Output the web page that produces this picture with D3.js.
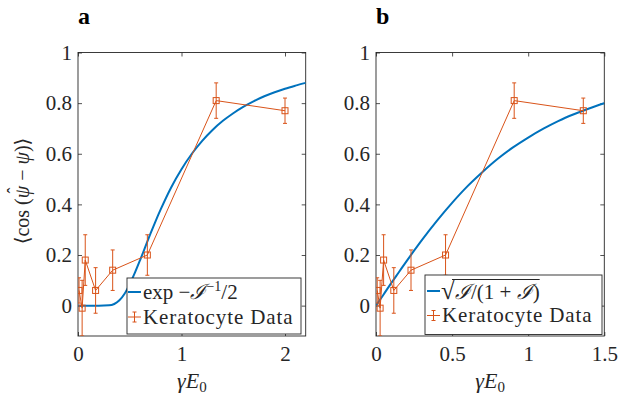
<!DOCTYPE html>
<html>
<head>
<meta charset="utf-8">
<script src="https://cdn.jsdelivr.net/npm/d3@7"></script>
<style>
  body { margin: 0; background: #fff; }
  svg { display: block; }
</style>
</head>
<body>
<script>
// ---------- data ----------
const panelLabels = ["a", "b"];
// experimental x positions (gamma*E0) in each panel
const dataXA = [0.01, 0.04, 0.07, 0.17, 0.335, 0.67, 1.335, 2.0];
const dataXB = [0.008, 0.027, 0.05, 0.117, 0.23, 0.457, 0.908, 1.362];
// Keratocyte data mean and error (same in both panels)
const dataY = [0.06, -0.01, 0.18, 0.06, 0.14, 0.20, 0.81, 0.77];
const dataErr = [0.05, 0.11, 0.10, 0.09, 0.08, 0.08, 0.07, 0.05];
// theory curve, panel a (exp -I^-1/2)
const curveXA = [0, 0.1, 0.2, 0.3, 0.35, 0.4, 0.45, 0.5, 0.55, 0.6, 0.65, 0.7, 0.75, 0.8, 0.9, 1.0, 1.1, 1.2, 1.3, 1.4, 1.5, 1.6, 1.7, 1.8, 1.9, 2.0, 2.1, 2.2];
const curveYA = [0, 0, 0, 0.001, 0.0065, 0.021, 0.047, 0.085, 0.13, 0.18, 0.232, 0.284, 0.334, 0.381, 0.467, 0.539, 0.60, 0.651, 0.694, 0.73, 0.76, 0.786, 0.808, 0.827, 0.843, 0.857, 0.869, 0.88];
// theory curve, panel b (sqrt(I/(1+I)))
const curveXB = [0, 0.05, 0.1, 0.15, 0.2, 0.25, 0.3, 0.4, 0.5, 0.6, 0.7, 0.8, 0.9, 1.0, 1.1, 1.2, 1.3, 1.4, 1.5];
const curveYB = [0, 0.044, 0.089, 0.132, 0.175, 0.217, 0.258, 0.335, 0.406, 0.471, 0.528, 0.58, 0.625, 0.664, 0.699, 0.73, 0.756, 0.779, 0.80];
// ticks
const yTicks = [0, 0.2, 0.4, 0.6, 0.8, 1];
const xTicksA = [0, 1, 2];
const xTicksB = [0, 0.5, 1, 1.5];
const xDomainA = [0, 2.2];
const xDomainB = [0, 1.5];
const yDomain = [-0.12, 1];

// ---------- drawing ----------
const W = 618, H = 403;
const BLUE = "#0072BD", ORANGE = "#D95319", AX = "#262626";
const FONT = "'Liberation Serif', 'Times New Roman', 'DejaVu Serif', serif";
const svg = d3.select("body").append("svg").attr("width", W).attr("height", H)
  .attr("font-family", FONT).style("font-family", FONT);

const plotTop = 52.5, plotBottom = 336;
const y = d3.scaleLinear().domain(yDomain).range([plotBottom, plotTop]);

function T(sel) { return sel.style("font-family", FONT).attr("font-family", FONT).attr("fill", AX); }

function panel(idx, left, right, xDomain, xTicks, dataX, curveX, curveY) {
  const x = d3.scaleLinear().domain(xDomain).range([left, right]);
  const g = svg.append("g");
  const clipId = "clip" + idx;
  svg.append("defs").append("clipPath").attr("id", clipId)
    .append("rect").attr("x", left).attr("y", plotTop).attr("width", right - left).attr("height", plotBottom - plotTop);

  // title
  T(g.append("text")).attr("x", left).attr("y", 24)
    .style("font-size", "24px").style("font-weight", "bold").attr("fill", "#000")
    .text(panelLabels[idx]);

  const fmt = d => String(d);
  // axes
  const ab = g.append("g").attr("transform", `translate(0,${plotBottom})`)
    .call(d3.axisBottom(x).tickValues(xTicks).tickSizeInner(-4).tickSizeOuter(0).tickPadding(10).tickFormat(fmt));
  const at = g.append("g").attr("transform", `translate(0,${plotTop})`)
    .call(d3.axisTop(x).tickValues(xTicks).tickSizeInner(-4).tickSizeOuter(0).tickFormat(""));
  const al = g.append("g").attr("transform", `translate(${left},0)`)
    .call(d3.axisLeft(y).tickValues(yTicks).tickSizeInner(-4).tickSizeOuter(0).tickPadding(6).tickFormat(fmt));
  const ar = g.append("g").attr("transform", `translate(${right},0)`)
    .call(d3.axisRight(y).tickValues(yTicks).tickSizeInner(-4).tickSizeOuter(0).tickFormat(""));
  [ab, at, al, ar].forEach(a => {
    a.attr("font-family", FONT).attr("font-size", 21);
    a.select(".domain").remove();
    a.selectAll(".tick line").attr("stroke", AX).attr("stroke-width", 0.8);
    T(a.selectAll(".tick text")).style("font-size", "21px");
  });
  g.append("rect").attr("x", left).attr("y", plotTop).attr("width", right - left).attr("height", plotBottom - plotTop)
    .attr("fill", "none").attr("stroke", AX).attr("stroke-width", 0.9);

  const plot = g.append("g").attr("clip-path", `url(#${clipId})`);
  // theory curve
  const cpts = curveX.map((v, i) => [v, curveY[i]]);
  plot.append("path").datum(cpts)
    .attr("d", d3.line().x(d => x(d[0])).y(d => y(d[1])).curve(d3.curveMonotoneX))
    .attr("fill", "none").attr("stroke", BLUE).attr("stroke-width", 2);

  // data
  const pts = dataX.map((v, i) => ({ x: v, y: dataY[i], e: dataErr[i] }));
  plot.append("path").datum(pts)
    .attr("d", d3.line().x(d => x(d.x)).y(d => y(d.y)))
    .attr("fill", "none").attr("stroke", ORANGE).attr("stroke-width", 1);
  const eb = plot.selectAll("g.eb").data(pts).enter().append("g").attr("class", "eb");
  eb.append("line").attr("x1", d => x(d.x)).attr("x2", d => x(d.x))
    .attr("y1", d => y(d.y - d.e)).attr("y2", d => y(d.y + d.e))
    .attr("stroke", ORANGE).attr("stroke-width", 1);
  eb.append("line").attr("x1", d => x(d.x) - 2).attr("x2", d => x(d.x) + 2)
    .attr("y1", d => y(d.y - d.e)).attr("y2", d => y(d.y - d.e))
    .attr("stroke", ORANGE).attr("stroke-width", 1);
  eb.append("line").attr("x1", d => x(d.x) - 2).attr("x2", d => x(d.x) + 2)
    .attr("y1", d => y(d.y + d.e)).attr("y2", d => y(d.y + d.e))
    .attr("stroke", ORANGE).attr("stroke-width", 1);
  eb.append("rect").attr("x", d => x(d.x) - 3).attr("y", d => y(d.y) - 3)
    .attr("width", 6).attr("height", 6).attr("fill", "none").attr("stroke", ORANGE).attr("stroke-width", 1);

  // x label
  const xl = T(g.append("text")).attr("x", (left + right) / 2).attr("y", 388).attr("text-anchor", "middle")
    .style("font-size", "22px");
  xl.append("tspan").style("font-style", "italic").text("γE");
  xl.append("tspan").attr("dy", 4).style("font-size", "15px").text("0");
  return { g, x };
}

const pa = panel(0, 78, 305.7, xDomainA, xTicksA, dataXA, curveXA, curveYA);
const pb = panel(1, 376, 604.3, xDomainB, xTicksB, dataXB, curveXB, curveYB);

// y label (rotated group), hat drawn above the first psi
const ylg = svg.append("g").attr("transform", "translate(29,191) rotate(-90)");
const yl = T(ylg.append("text")).attr("x", 0).attr("y", 0)
  .attr("text-anchor", "middle").style("font-size", "20px");
yl.append("tspan").text("⟨cos (");
yl.append("tspan").style("font-style", "italic").text("ψ");
yl.append("tspan").text(" − ");
yl.append("tspan").style("font-style", "italic").text("ψ");
yl.append("tspan").text(")⟩");
{
  const full = yl.text();
  const i = full.indexOf("ψ");
  const ext = yl.node().getExtentOfChar(i);
  T(ylg.append("text")).attr("x", ext.x + ext.width / 2 + 1.5).attr("y", ext.y + 8.5)
    .attr("text-anchor", "middle").style("font-size", "18px").text("ˆ");
}

// legends
function legendErrGlyph(g, x0, x1, yc) {
  g.append("line").attr("x1", x0).attr("x2", x1).attr("y1", yc).attr("y2", yc).attr("stroke", ORANGE).attr("stroke-width", 1);
  const xm = (x0 + x1) / 2;
  g.append("line").attr("x1", xm).attr("x2", xm).attr("y1", yc - 5).attr("y2", yc + 5).attr("stroke", ORANGE).attr("stroke-width", 1);
  [yc - 5, yc + 5].forEach(v => g.append("line").attr("x1", xm - 2).attr("x2", xm + 2).attr("y1", v).attr("y2", v).attr("stroke", ORANGE).attr("stroke-width", 1));
}

// legend a
{
  const g = svg.append("g");
  g.append("rect").attr("x", 127).attr("y", 278).attr("width", 174).attr("height", 56)
    .attr("fill", "#fff").attr("stroke", AX).attr("stroke-width", 0.9);
  g.append("line").attr("x1", 128).attr("x2", 141).attr("y1", 292).attr("y2", 292).attr("stroke", BLUE).attr("stroke-width", 2);
  const t = T(g.append("text")).attr("x", 143).attr("y", 298.5).style("font-size", "21px");
  t.append("tspan").text("exp −");
  t.append("tspan").style("font-style", "italic").text("ℐ");
  t.append("tspan").attr("dy", -8).style("font-size", "14px").text("−1");
  t.append("tspan").attr("dy", 8).text("/2");
  legendErrGlyph(g, 128, 141, 317);
  T(g.append("text")).attr("x", 143).attr("y", 323.5).style("font-size", "21px").style("letter-spacing", "0.9px").text("Keratocyte Data");
}
// legend b
{
  const g = svg.append("g");
  g.append("rect").attr("x", 425).attr("y", 275).attr("width", 177).attr("height", 59.5)
    .attr("fill", "#fff").attr("stroke", AX).attr("stroke-width", 0.9);
  g.append("line").attr("x1", 427).attr("x2", 440).attr("y1", 291).attr("y2", 291).attr("stroke", BLUE).attr("stroke-width", 2);
  T(g.append("text")).attr("x", 441).attr("y", 299).style("font-size", "25px").text("√");
  const t = T(g.append("text")).attr("x", 455).attr("y", 298.5).style("font-size", "21px");
  t.append("tspan").style("font-style", "italic").text("ℐ");
  t.append("tspan").text("/(1 + ");
  t.append("tspan").style("font-style", "italic").text("ℐ");
  t.append("tspan").text(")");
  const len = t.node().getComputedTextLength();
  g.append("line").attr("x1", 452).attr("x2", 455 + len).attr("y1", 279.5).attr("y2", 279.5).attr("stroke", AX).attr("stroke-width", 1);
  legendErrGlyph(g, 427, 440, 315.5);
  T(g.append("text")).attr("x", 442).attr("y", 322).style("font-size", "21px").style("letter-spacing", "0.9px").text("Keratocyte Data");
}
</script>
</body>
</html>
